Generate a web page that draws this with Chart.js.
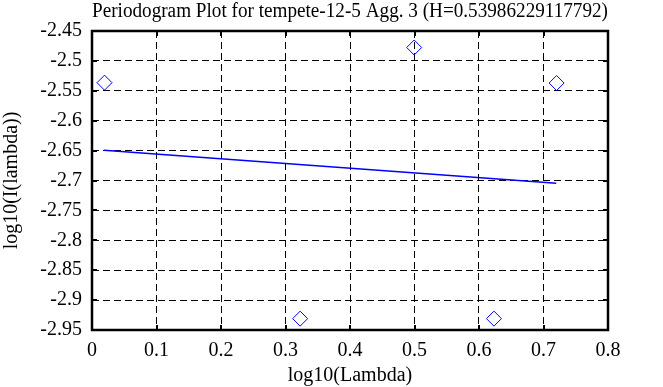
<!DOCTYPE html>
<html>
<head>
<meta charset="utf-8">
<script src="https://cdn.jsdelivr.net/npm/chart.js@4/dist/chart.umd.min.js"></script>
<style>
  html, body { margin: 0; padding: 0; background: #ffffff; }
  #wrap { width: 663px; height: 387px; }
</style>
</head>
<body>
<div id="wrap"><canvas id="c" width="663" height="387"></canvas></div>
<script>
// ---- data ----
const titleText = "Periodogram Plot for tempete-12-5 Agg. 3 (H=0.53986229117792)";
const xAxisTitle = "log10(Lambda)";
const yAxisTitle = "log10(I(lambda))";

const pointX = [0.0194, 0.3227, 0.4995, 0.6232, 0.7203];
const pointY = [-2.5364, -2.931, -2.4776, -2.931, -2.537];

const fitX = [0.0186, 0.7197];
const fitY = [-2.6495, -2.7047];

const xTicks = [0, 0.1, 0.2, 0.3, 0.4, 0.5, 0.6, 0.7, 0.8];
const yTicks = [-2.95, -2.9, -2.85, -2.8, -2.75, -2.7, -2.65, -2.6, -2.55, -2.5, -2.45];

// ---- chart ----
const FONT = "'Liberation Serif', 'Times New Roman', serif";
const BLUE = '#0000ff';

const framePlugin = {
  id: 'frame',
  beforeDatasetsDraw(chart) {
    const {ctx, chartArea: a, scales} = chart;
    ctx.save();
    ctx.strokeStyle = '#000';
    ctx.lineWidth = 2;
    const tl = 5;
    ctx.beginPath();
    xTicks.forEach(v => {
      const px = Math.round(scales.x.getPixelForValue(v));
      ctx.moveTo(px, a.top); ctx.lineTo(px, a.top + tl);
      ctx.moveTo(px, a.bottom); ctx.lineTo(px, a.bottom - tl);
    });
    yTicks.forEach(v => {
      const py = Math.round(scales.y.getPixelForValue(v));
      ctx.moveTo(a.left, py); ctx.lineTo(a.left + tl, py);
      ctx.moveTo(a.right, py); ctx.lineTo(a.right - tl, py);
    });
    ctx.stroke();
    ctx.lineWidth = 2.5;
    ctx.strokeRect(a.left, a.top, a.right - a.left, a.bottom - a.top);
    ctx.restore();
  }
};

new Chart(document.getElementById('c'), {
  type: 'scatter',
  data: {
    datasets: [
      {
        type: 'scatter',
        data: pointX.map((x, i) => ({x: x, y: pointY[i]})),
        pointStyle: 'rectRot',
        pointRadius: 7.5,
        pointBorderColor: BLUE,
        pointBackgroundColor: 'rgba(0,0,0,0)',
        pointBorderWidth: 1,
        borderColor: BLUE,
        backgroundColor: 'rgba(0,0,0,0)'
      },
      {
        type: 'line',
        data: fitX.map((x, i) => ({x: x, y: fitY[i]})),
        borderColor: BLUE,
        borderWidth: 1.5,
        pointRadius: 0,
        fill: false,
        tension: 0
      }
    ]
  },
  options: {
    responsive: false,
    animation: false,
    devicePixelRatio: 1,
    layout: { padding: { top: 0, right: 55, left: 0, bottom: 0 } },
    plugins: {
      legend: { display: false },
      tooltip: { enabled: false },
      title: {
        display: true,
        text: titleText,
        fullSize: false,
        color: '#000',
        font: { family: FONT, size: 20, weight: 'normal' },
        padding: { top: 0, bottom: 7 }
      }
    },
    scales: {
      x: {
        type: 'linear',
        min: 0, max: 0.8,
        afterBuildTicks: s => { s.ticks = xTicks.map(v => ({value: v})); },
        afterFit: s => { s.height = 57; },
        ticks: {
          color: '#000',
          font: { family: FONT, size: 20 },
          padding: 9,
          maxRotation: 0,
          autoSkip: false,
          callback: v => String(+Number(v).toFixed(2))
        },
        grid: { color: '#000', lineWidth: 1, drawTicks: false },
        border: { display: false, dash: [7, 4] },
        title: {
          display: true, text: xAxisTitle, color: '#000',
          font: { family: FONT, size: 20 },
          padding: { top: 0, bottom: -1 }
        }
      },
      y: {
        type: 'linear',
        min: -2.95, max: -2.45,
        afterBuildTicks: s => { s.ticks = yTicks.map(v => ({value: v})); },
        afterFit: s => { s.width = 92; },
        ticks: {
          color: '#000',
          font: { family: FONT, size: 20 },
          padding: 10,
          autoSkip: false,
          callback: v => String(+Number(v).toFixed(2))
        },
        grid: { color: '#000', lineWidth: 1, drawTicks: false },
        border: { display: false, dash: [7, 4] },
        title: {
          display: true, text: yAxisTitle, color: '#000',
          font: { family: FONT, size: 20 },
          padding: { top: 0, bottom: 0 }
        }
      }
    }
  },
  plugins: [framePlugin]
});
</script>
</body>
</html>
